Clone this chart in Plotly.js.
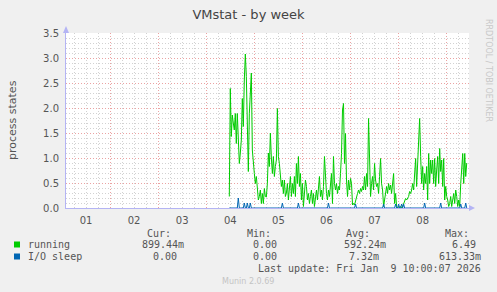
<!DOCTYPE html>
<html><head><meta charset="utf-8">
<script src="https://cdn.plot.ly/plotly-3.0.1.min.js"></script>
<style>html,body{margin:0;padding:0;background:#f0f0f0;}#chart{width:497px;height:292px;}</style>
</head><body><div id="chart"></div>
<script>
const chartTitle = 'VMstat - by week';
const yTitle = 'process states';
const dayTickTimes = ['2026-01-01 12:00','2026-01-02 12:00','2026-01-03 12:00','2026-01-04 12:00','2026-01-05 12:00','2026-01-06 12:00','2026-01-07 12:00','2026-01-08 12:00'];
const dayTickLabels = ['01','02','03','04','05','06','07','08'];
const seriesNames = ['running','I/O sleep'];
const seriesColors = ['#00cc00','#0066b3'];
const sampleStart = '2026-01-04 11:30:00';
const sampleStepMinutes = 30;
const running = [
 0.23,2.39,1.43,1.86,1.7,1.56,1.89,1.29,1.89,1.49,0.89,1.1,1.36,2.19,1.63,2.56,3.08,2.63,1.89,0.73,
 1.89,2.43,2.7,1.16,0.83,0.69,0.49,0.63,0.4,0.16,0.23,0.36,0.09,0.29,0.09,0.39,0.23,
 0.22,0.49,1.1,0.83,1.5,1.0,0.69,1.03,0.63,0.83,0.96,1.99,1.03,0.89,0.69,0.43,0.56,0.29,0.56,0.23,
 0.3,0.49,0.16,0.43,0.63,0.23,0.49,0.29,0.63,0.23,0.89,0.49,1.03,0.43,0.69,0.16,0.49,0.03,0.23,0.56,0.43,
 0.16,0.29,0.09,0.23,0.36,0.09,0.29,0.03,0.23,0.36,0.16,0.43,0.63,0.23,0.36,0.16,0.43,1.03,0.49,0.29,
 0.16,0.36,0.23,0.43,0.69,0.09,1.03,0.49,0.36,0.49,0.29,0.43,0.36,0.69,1.09,1.96,2.09,0.89,
 1.49,
 0.56,0.23,0.56,0.36,0.59,0.49,0.06,0.09,0.06,0.16,0.23,0.29,0.36,0.29,0.39,0.33,0.43,0.36,0.63,0.36,
 0.69,0.43,1.79,0.63,0.23,0.49,0.63,0.36,0.89,0.56,0.43,0.49,0.29,0.63,0.99,0.49,0.36,0.03,0.16,0.29,
 0.43,0.29,0.49,0.36,0.46,0.29,0.53,0.69,0.09,0.29,0.03,0,0.03,0,0.03,0,0.03,0.09,0.16,0.19,
 0.16,0.19,0.23,0.33,0.29,0.36,0.49,0.36,0.83,0.99,0.43,0.83,1.23,1.79,1.03,0.49,0.83,0.36,0.69,0.49,
 0.83,0.16,1.09,0.49,0.96,0.69,0.96,0.49,0.99,0.43,0.76,1.03,0.49,1.19,0.73,0.96,0.43,0.99,0.16,0.43,
 0.23,0.16,0.03,0.09,0.23,0.03,0.16,0.29,0.09,0.36,0.23,0.03,0.16,0.03,0.49,0.76,1.09,0.49,1.09,0.63,0.9
];
const ioSleep = [
 0,0,0,0,0,0,0,0,0,0.2,0,0,0,0,0,0.1,0,0,0.1,0,
 0,0.1,0,0,0,0,0,0,0,0,0,0,0,0,0,0,0,0,0,0,
 0,0,0,0,0,0,0,0,0,0,0,0,0,0.1,0,0,0,0,0,0,
 0,0,0,0,0,0,0,0,0,0.1,0,0,0,0,0,0,0,0,0,0,
 0,0,0,0,0,0,0,0,0,0,0,0,0,0,0,0,0,0,0,0.1,
 0,0,0,0,0,0,0,0,0,0,0,0,0,0,0,0,0,0,0,0,
 0,0,0,0,0,0,0.08,0,0,0,0,0,0,0,0,0,0,0,0,0,
 0,0,0,0,0,0,0,0,0,0,0,0,0,0,0.08,0,0,0,0,0,
 0,0,0,0,0,0,0.08,0,0,0.08,0,0,0.08,0,0.08,0,0,0,0,0,
 0,0,0,0,0,0,0,0,0,0,0,0,0,0,0,0.1,0,0,0,0,
 0,0,0,0,0,0,0,0,0,0,0,0.1,0,0,0,0,0,0,0,0,
 0,0,0,0,0,0,0,0,0,0,0,0.08,0,0,0,0,0.1,0
];
const legendHeaders = ['Cur:','Min:','Avg:','Max:'];
const runningStats = ['899.44m','0.00','592.24m','6.49'];
const ioSleepStats = ['0.00','0.00','7.32m','613.33m'];
const lastUpdate = 'Last update: Fri Jan\u00a0\u00a09 10:00:07 2026';
const footerText = 'Munin 2.0.69';
const watermark = 'RRDTOOL / TOBI OETIKER';
const xRange = ['2026-01-01 02:00','2026-01-09 11:08'];

function fmt(ms){const d=new Date(ms);const p=n=>String(n).padStart(2,'0');
 return d.getUTCFullYear()+'-'+p(d.getUTCMonth()+1)+'-'+p(d.getUTCDate())+' '+p(d.getUTCHours())+':'+p(d.getUTCMinutes())+':00';}
const t0 = Date.parse(sampleStart.replace(' ','T')+'Z');
const times = running.map((_,i)=>fmt(t0+i*sampleStepMinutes*60000));

// layout geometry (pixels)
const W=497,H=292,L=66,R=469,T=33,B=208;
const px=x=>(x-L)/(R-L), py=y=>(B-y)/(B-T);
const mono='DejaVu Sans Mono, monospace', sans='DejaVu Sans, sans-serif';
const txt='#555';
const axisBlue='#b4b4f4';
const redGrid='#eba3a3', greyGrid='#d2d2d2', dash='1px,2px';

const traces=[
 {x:times,y:running,xaxis:'x2',yaxis:'y',mode:'lines',line:{width:0},opacity:0,hoverinfo:'skip',showlegend:false},
 {x:times,y:running,name:seriesNames[0],mode:'lines',line:{color:seriesColors[0],width:1},hoverinfo:'skip'},
 {x:times,y:ioSleep,name:seriesNames[1],mode:'lines',line:{color:seriesColors[1],width:1},hoverinfo:'skip'}
];

const ann=[];
function A(text,x,y,xanchor,opts){ann.push(Object.assign({text:text,xref:'paper',yref:'paper',x:px(x),y:py(y),xanchor:xanchor,yanchor:'middle',showarrow:false,borderpad:0,font:{family:mono,size:10,color:txt}},opts||{}));}
const headerRight=[172,272,371,470];
legendHeaders.forEach((h,i)=>A(h,headerRight[i],233,'right'));
A(seriesNames[0],27,244.5,'left');
A(seriesNames[1],27,256.5,'left');
const row1Right=[185,278,387,477], row2Right=[178,278,380,482];
runningStats.forEach((s,i)=>A(s,row1Right[i],244.5,'right'));
ioSleepStats.forEach((s,i)=>A(s,row2Right[i],256.5,'right'));
A(lastUpdate,482,268.5,'right');
A(footerText,248,281,'center',{font:{family:sans,size:8,color:'#c4c4c4'}});
A(yTitle,12,120,'center',{textangle:-90,font:{family:sans,size:11,color:txt}});
A(watermark,489,70,'center',{textangle:90,font:{family:sans,size:8,color:'#c8c8c8'}});

const shapes=[
 {type:'rect',xref:'paper',yref:'paper',x0:px(14),x1:px(20),y0:py(241.5),y1:py(247.5),fillcolor:seriesColors[0],line:{width:0}},
 {type:'rect',xref:'paper',yref:'paper',x0:px(14),x1:px(20),y0:py(253.5),y1:py(259.5),fillcolor:seriesColors[1],line:{width:0}},
 {type:'path',xref:'paper',yref:'paper',path:`M ${px(63)} ${py(33)} L ${px(69)} ${py(33)} L ${px(66)} ${py(26)} Z`,fillcolor:axisBlue,line:{width:0}},
 {type:'path',xref:'paper',yref:'paper',path:`M ${px(469)} ${py(205)} L ${px(469)} ${py(211)} L ${px(475)} ${py(208)} Z`,fillcolor:axisBlue,line:{width:0}}
];

const layout={
 width:W,height:H,margin:{l:L,r:W-R,t:T,b:H-B,pad:0},
 paper_bgcolor:'#f0f0f0',plot_bgcolor:'#ffffff',showlegend:false,
 title:{text:chartTitle,x:0.5,xref:'container',xanchor:'center',y:1-14/H,yref:'container',yanchor:'middle',font:{family:sans,size:13,color:'#444'}},
 xaxis:{type:'date',range:xRange,tickmode:'array',tickvals:dayTickTimes,ticktext:dayTickLabels,showgrid:false,zeroline:false,ticks:'',
  showline:true,linecolor:axisBlue,linewidth:1,tickfont:{family:sans,size:10,color:txt},ticklabelstandoff:3,fixedrange:true,
  minor:{tickmode:'linear',tick0:'2026-01-01 00:00',dtick:21600000,showgrid:true,gridcolor:greyGrid,griddash:dash,gridwidth:1,ticks:''}},
 xaxis2:{type:'date',range:xRange,overlaying:'x',anchor:'y',side:'bottom',tickmode:'linear',tick0:'2026-01-01 00:00',dtick:86400000,
  showgrid:true,gridcolor:redGrid,griddash:dash,gridwidth:1,showticklabels:false,ticks:'',showline:false,zeroline:false,fixedrange:true},
 yaxis:{range:[0,3.5],tickmode:'linear',tick0:0,dtick:0.5,tickformat:'.1f',showgrid:true,gridcolor:redGrid,griddash:dash,gridwidth:1,
  zeroline:false,showline:true,linecolor:axisBlue,linewidth:1,ticks:'',tickfont:{family:sans,size:10,color:txt},ticklabelstandoff:4,fixedrange:true,
  minor:{tickmode:'linear',tick0:0,dtick:0.1,showgrid:true,gridcolor:greyGrid,griddash:dash,gridwidth:1,ticks:''}},
 annotations:ann,shapes:shapes
};
Plotly.newPlot('chart',traces,layout,{staticPlot:true,displayModeBar:false});
</script></body></html>
